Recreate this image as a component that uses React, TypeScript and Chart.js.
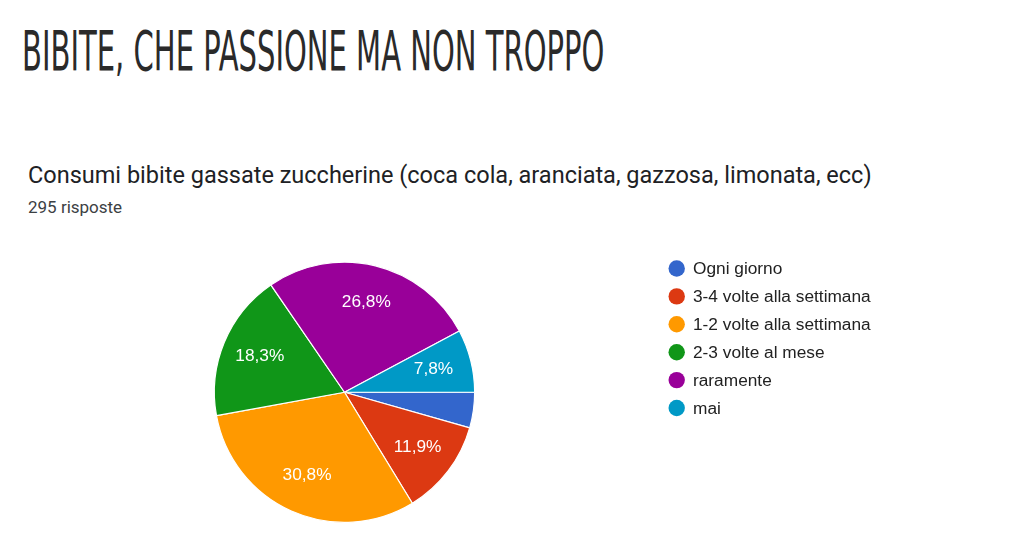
import { useEffect, useRef } from "react";
import Chart, { type Plugin } from "chart.js/auto";

// risposte al sondaggio (295 totali)
const LABELS = ["Ogni giorno", "3-4 volte alla settimana", "1-2 volte alla settimana", "2-3 volte al mese", "raramente", "mai"];
const COUNTS = [13, 35, 91, 54, 79, 23];
const COLORS = ["#3366cc", "#dc3912", "#ff9900", "#109618", "#990099", "#0099c6"];

const FONT = "'Liberation Sans', Arial, sans-serif";

// etichette percentuali dentro le fette
const sliceLabels: Plugin<"pie"> = {
  id: "sliceLabels",
  afterDatasetsDraw(chart) {
    const { ctx } = chart;
    const meta = chart.getDatasetMeta(0);
    const data = chart.data.datasets[0].data as number[];
    const total = data.reduce((a, b) => a + b, 0);
    ctx.save();
    ctx.fillStyle = "#fff";
    ctx.font = `17.3px ${FONT}`;
    ctx.textAlign = "center";
    ctx.textBaseline = "middle";
    meta.data.forEach((el: any, i) => {
      const pct = (data[i] / total) * 100;
      if (pct < 5) return;
      const mid = (el.startAngle + el.endAngle) / 2;
      const r = el.outerRadius * 0.705;
      ctx.fillText(pct.toFixed(1).replace(".", ",") + "%", el.x + Math.cos(mid) * r, el.y + Math.sin(mid) * r - 1);
    });
    ctx.restore();
  },
};

// legenda stile Google Forms
const sideLegend: Plugin<"pie"> = {
  id: "sideLegend",
  afterDraw(chart) {
    const { ctx } = chart;
    const labels = chart.data.labels as string[];
    const colors = chart.data.datasets[0].backgroundColor as string[];
    ctx.save();
    ctx.font = `17.3px ${FONT}`;
    ctx.textBaseline = "middle";
    labels.forEach((label, i) => {
      const y = 268.5 + i * 27.9;
      ctx.beginPath();
      ctx.arc(676.7, y, 8.2, 0, Math.PI * 2);
      ctx.fillStyle = colors[i];
      ctx.fill();
      ctx.fillStyle = "#222";
      ctx.fillText(label, 693, y + 1);
    });
    ctx.restore();
  },
};

function PieChart() {
  const ref = useRef<HTMLCanvasElement>(null);
  useEffect(() => {
    if (!ref.current) return;
    const chart = new Chart(ref.current, {
      type: "pie",
      data: {
        labels: LABELS,
        datasets: [{ data: COUNTS, backgroundColor: COLORS, borderColor: "#fff", borderWidth: 1.2 }],
      },
      options: {
        responsive: false,
        animation: false,
        rotation: 90,
        layout: { padding: { top: 261.5, bottom: 22, left: 213.5, right: 548.5 } },
        plugins: { legend: { display: false }, tooltip: { enabled: false } },
      },
      plugins: [sliceLabels, sideLegend],
    });
    return () => chart.destroy();
  }, []);
  return <canvas ref={ref} width={1024} height={545} style={{ position: "absolute", left: 0, top: 0 }} />;
}

export default function App() {
  useEffect(() => {
    document.body.style.margin = "0";
  }, []);
  return (
    <div style={{ position: "relative", width: 1024, height: 545, background: "#fff", overflow: "hidden" }}>
      <div
        style={{
          position: "absolute",
          left: 22,
          top: 23.5,
          fontFamily: "'Liberation Sans Narrow', 'DejaVu Sans Condensed', sans-serif",
          fontSize: 55,
          lineHeight: "55px",
          color: "#2a2a2a",
          whiteSpace: "nowrap",
          transform: "scaleX(0.587)",
          transformOrigin: "left top",
        }}
      >
        BIBITE, CHE PASSIONE MA NON TROPPO
      </div>
      <div
        style={{
          position: "absolute",
          left: 28,
          top: 163.5,
          fontFamily: "Roboto, sans-serif",
          fontSize: 23.5,
          lineHeight: "23.5px",
          color: "#202124",
          whiteSpace: "nowrap",
        }}
      >
        Consumi bibite gassate zuccherine (coca cola, aranciata, gazzosa, limonata, ecc)
      </div>
      <div
        style={{
          position: "absolute",
          left: 28,
          top: 198.5,
          fontFamily: "Roboto, sans-serif",
          fontSize: 17,
          lineHeight: "17px",
          color: "#3c4043",
          whiteSpace: "nowrap",
        }}
      >
        295 risposte
      </div>
      <PieChart />
    </div>
  );
}
